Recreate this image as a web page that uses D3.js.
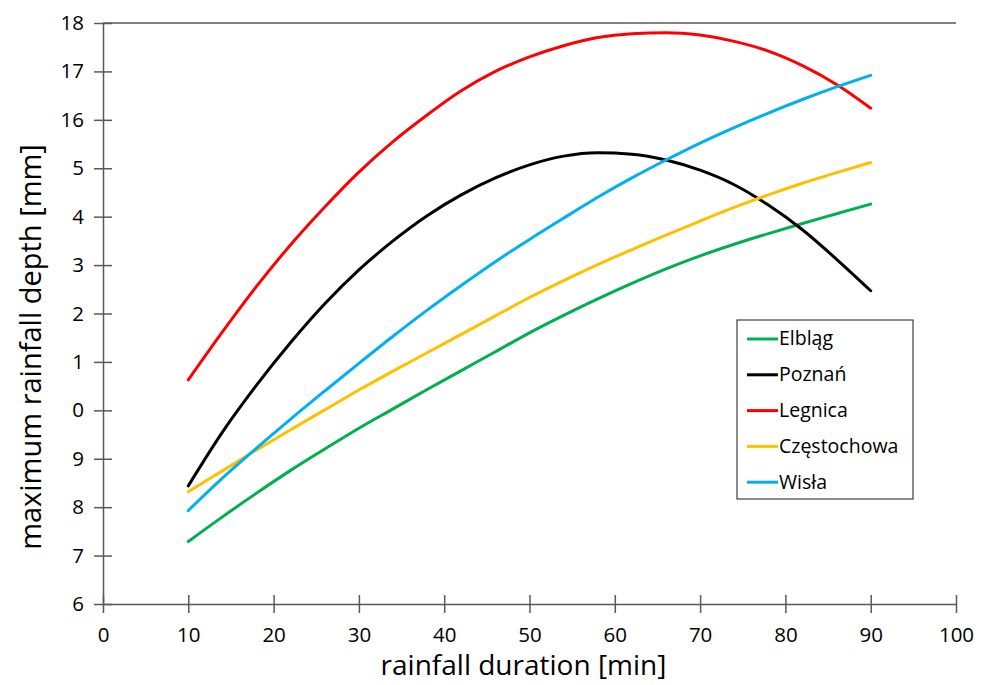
<!DOCTYPE html>
<html>
<head>
<meta charset="utf-8">
<script src="https://cdn.jsdelivr.net/npm/d3@7"></script>
<style>
  body { margin: 0; background: #fff; }
  text { font-family: "Open Sans", sans-serif; fill: #000; }
</style>
</head>
<body>
<svg width="988" height="685"></svg>
<script>
const durations = [10, 14, 18, 22, 26, 30, 34, 38, 42, 46, 50, 54, 58, 62, 66, 70, 74, 78, 82, 86, 90];

const elblag = [7.29, 7.8, 8.29, 8.76, 9.2, 9.63, 10.03, 10.43, 10.82, 11.21, 11.6, 11.96, 12.3, 12.62, 12.92, 13.19, 13.43, 13.65, 13.86, 14.06, 14.26];
const poznan = [8.44, 9.55, 10.52, 11.4, 12.2, 12.9, 13.5, 14.02, 14.45, 14.8, 15.07, 15.25, 15.32, 15.29, 15.17, 14.96, 14.66, 14.24, 13.73, 13.12, 12.47];
const legnica = [10.63, 11.62, 12.56, 13.42, 14.2, 14.92, 15.55, 16.1, 16.6, 17.0, 17.3, 17.53, 17.7, 17.78, 17.8, 17.75, 17.62, 17.42, 17.12, 16.73, 16.24];
const czestochowa = [8.32, 8.75, 9.18, 9.6, 10.01, 10.42, 10.81, 11.19, 11.57, 11.95, 12.33, 12.68, 13.01, 13.32, 13.62, 13.91, 14.19, 14.45, 14.69, 14.91, 15.12];
const wisla = [7.93, 8.6, 9.22, 9.82, 10.4, 10.97, 11.53, 12.07, 12.58, 13.07, 13.53, 13.97, 14.4, 14.8, 15.17, 15.52, 15.84, 16.14, 16.42, 16.68, 16.92];

const seriesNames = ["Elbląg", "Poznań", "Legnica", "Częstochowa", "Wisła"];
const seriesValues = [elblag, poznan, legnica, czestochowa, wisla];
const seriesColors = ["#00b050", "#000000", "#ff0000", "#ffc000", "#00b0f0"];

const xTicks = [0, 10, 20, 30, 40, 50, 60, 70, 80, 90, 100];
const yTicks = [6, 7, 8, 9, 10, 11, 12, 13, 14, 15, 16, 17, 18];
// labels as printed in the figure
const yTickLabels = ["6", "7", "8", "9", "0", "1", "2", "3", "4", "5", "16", "17", "18"];

const svg = d3.select("svg");
const mLeft = 103, mRight = 956, mTop = 23, mBottom = 604;

const x = d3.scaleLinear().domain([0, 100]).range([mLeft, mRight]);
const y = d3.scaleLinear().domain([6, 18]).range([mBottom, mTop]);

const axisColor = "#595959";

// top border line
svg.append("line")
  .attr("x1", mLeft).attr("x2", mRight)
  .attr("y1", y(18)).attr("y2", y(18))
  .attr("stroke", axisColor).attr("stroke-width", 1.5);

const xAxis = svg.append("g")
  .attr("transform", `translate(0,${mBottom})`)
  .call(d3.axisBottom(x).tickValues(xTicks).tickSizeOuter(0));
const yAxis = svg.append("g")
  .attr("transform", `translate(${mLeft},0)`)
  .call(d3.axisLeft(y).tickValues(yTicks).tickSizeOuter(0).tickFormat((d, i) => yTickLabels[i]));

[xAxis, yAxis].forEach(g => {
  g.select(".domain").attr("stroke", axisColor).attr("stroke-width", 1.5);
  g.selectAll(".tick line").attr("stroke", axisColor).attr("stroke-width", 1.5);
  g.selectAll(".tick text").style("font-size", "20.5px").attr("fill", "#000");
});
// ticks cross the axis
xAxis.selectAll(".tick line").attr("y1", -9).attr("y2", 9);
yAxis.selectAll(".tick line").attr("x1", -9).attr("x2", 9);
xAxis.selectAll(".tick text").attr("y", 23);
yAxis.selectAll(".tick text").attr("x", -19);

svg.append("text")
  .attr("x", (mLeft + mRight) / 2 - 6).attr("y", 675)
  .attr("text-anchor", "middle")
  .style("font-size", "28px")
  .text("rainfall duration [min]");

svg.append("text")
  .attr("transform", `translate(41,347) rotate(-90)`)
  .attr("text-anchor", "middle")
  .style("font-size", "29px")
  .text("maximum rainfall depth [mm]");

const line = d3.line()
  .x((d, i) => x(durations[i]))
  .y(d => y(d))
  .curve(d3.curveMonotoneX);

svg.append("g").selectAll("path")
  .data(seriesValues)
  .enter().append("path")
    .attr("d", d => line(d))
    .attr("fill", "none")
    .attr("stroke", (d, i) => seriesColors[i])
    .attr("stroke-width", 3)
    .attr("stroke-linecap", "round")
    .attr("stroke-linejoin", "round");

// legend
const legend = svg.append("g").attr("transform", "translate(737,320)");
legend.append("rect")
  .attr("width", 176).attr("height", 179)
  .attr("fill", "#fff").attr("stroke", "#404040").attr("stroke-width", 1.2);

const item = legend.selectAll("g.item")
  .data(seriesNames)
  .enter().append("g")
    .attr("class", "item")
    .attr("transform", (d, i) => `translate(0,${19 + i * 35.8})`);
item.append("line")
  .attr("x1", 10).attr("x2", 41)
  .attr("stroke", (d, i) => seriesColors[i])
  .attr("stroke-width", 3);
item.append("text")
  .attr("x", 42).attr("dy", "0.33em")
  .style("font-size", "19.5px")
  .text(d => d);
</script>
</body>
</html>
